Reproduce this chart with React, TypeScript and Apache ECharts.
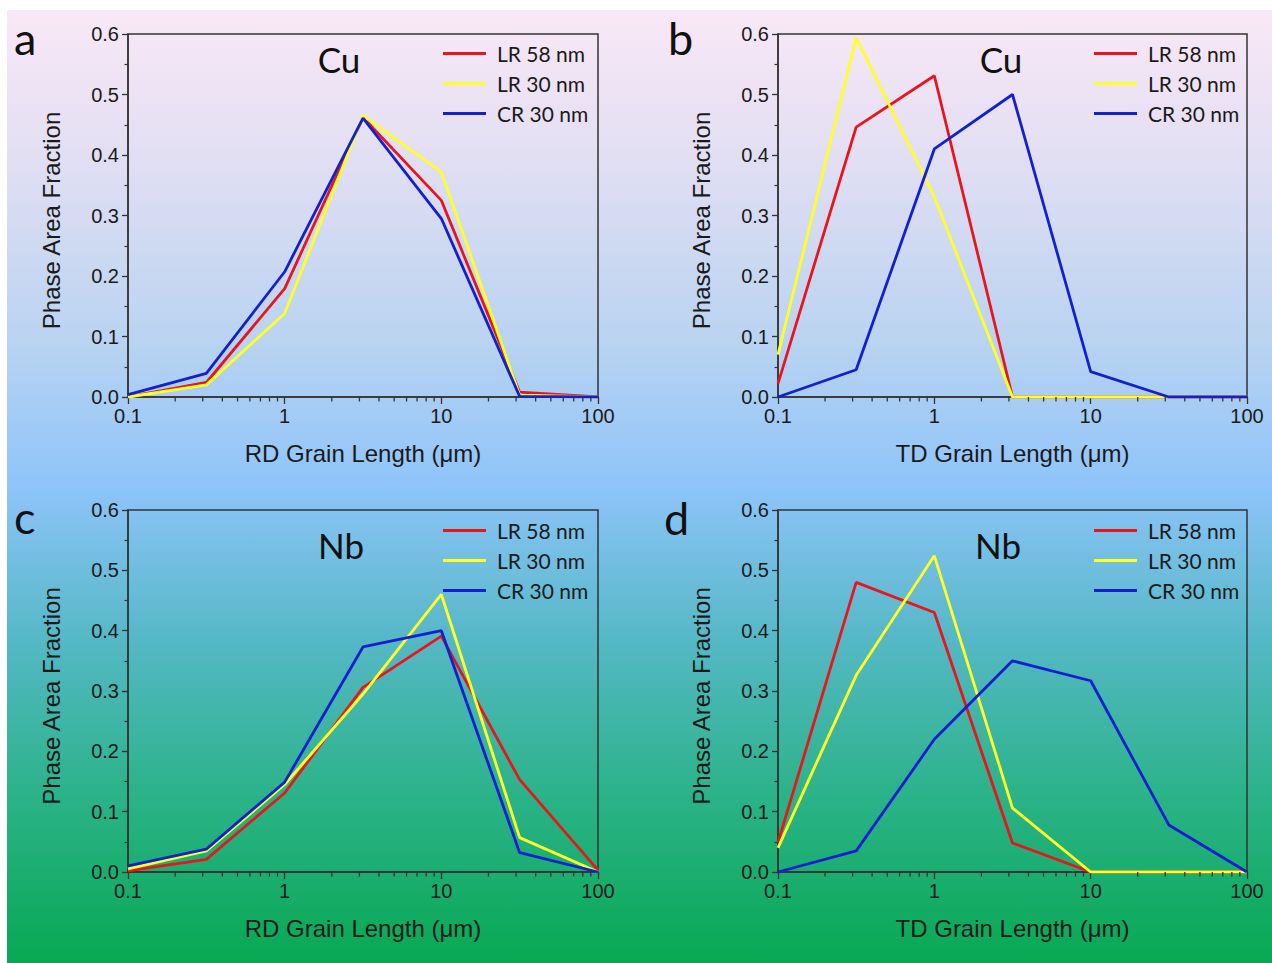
import React, { useEffect, useRef } from "react";
import * as echarts from "echarts";

// Grain length bins (µm), half-decade steps
const grainLengths = [0.1, 0.3162, 1, 3.162, 10, 31.62, 100];
const seriesNames = ["LR 58 nm", "LR 30 nm", "CR 30 nm"];
const xTickValues = [0.1, 1, 10, 100];
const minorTickValues = [0.2, 0.3, 0.4, 0.5, 0.6, 0.7, 0.8, 0.9, 2, 3, 4, 5, 6, 7, 8, 9, 20, 30, 40, 50, 60, 70, 80, 90];

// Panel a: Cu, RD
const aLR58 = [0, 0.024, 0.179, 0.462, 0.325, 0.008, 0];
const aLR30 = [0, 0.02, 0.138, 0.465, 0.372, 0.003, 0];
const aCR30 = [0.004, 0.039, 0.207, 0.461, 0.295, 0.001, 0];
// Panel b: Cu, TD
const bLR58 = [0.022, 0.446, 0.531, 0, 0, 0, 0];
const bLR30 = [0.07, 0.594, 0.331, 0, 0, 0, 0];
const bCR30 = [0, 0.045, 0.41, 0.5, 0.042, 0, 0];
// Panel c: Nb, RD
const cLR58 = [0.002, 0.021, 0.131, 0.306, 0.391, 0.153, 0.003];
const cLR30 = [0.005, 0.035, 0.145, 0.295, 0.46, 0.057, 0];
const cCR30 = [0.01, 0.038, 0.149, 0.373, 0.4, 0.032, 0];
// Panel d: Nb, TD
const dLR58 = [0.049, 0.48, 0.43, 0.048, 0, 0, 0];
const dLR30 = [0.04, 0.326, 0.524, 0.106, 0, 0, 0];
const dCR30 = [0, 0.035, 0.22, 0.35, 0.317, 0.078, 0];

const panelLetters = ["a", "b", "c", "d"];
const panelMaterials = ["Cu", "Cu", "Nb", "Nb"];
const panelXNames = ["RD Grain Length (μm)", "TD Grain Length (μm)", "RD Grain Length (μm)", "TD Grain Length (μm)"];
const yName = "Phase Area Fraction";

const panelData = [
  [aLR58, aLR30, aCR30],
  [bLR58, bLR30, bCR30],
  [cLR58, cLR30, cCR30],
  [dLR58, dLR30, dCR30],
];

const lineColors = ["#e8161c", "#ffff28", "#1420d0"];

// layout
const grids = [
  { left: 128, top: 34, width: 470, height: 363 },
  { left: 778, top: 34, width: 469, height: 363 },
  { left: 128, top: 510, width: 470, height: 362 },
  { left: 778, top: 510, width: 469, height: 362 },
];
const letterPos = [
  [14, 38],
  [668, 38],
  [14, 517],
  [664, 518],
];
const materialPos = [
  [339, 59],
  [1001, 59],
  [341, 545],
  [998, 545],
];
const legendPos = [
  [443, 43],
  [1094, 43],
  [443, 520],
  [1094, 520],
];

const AXIS_COLOR = "#333";
const TEXT_COLOR = "#1a1a1a";
const ARIAL = "'Liberation Sans', Arial, sans-serif";
const CAL = "Lato, 'Open Sans', sans-serif";

export default function App() {
  const ref = useRef<HTMLDivElement>(null);

  useEffect(() => {
    if (!ref.current) return;
    const chart = echarts.init(ref.current, null, { renderer: "svg" });

    const xAxes: any[] = [];
    const yAxes: any[] = [];
    const series: any[] = [];
    const legends: any[] = [];
    const graphics: any[] = [];

    graphics.push({
      type: "rect",
      z: -100,
      silent: true,
      shape: { x: 7, y: 10, width: 1265, height: 953 },
      style: {
        fill: new echarts.graphic.LinearGradient(0, 0, 0, 1, [
          { offset: 0, color: "#f9e8f6" },
          { offset: 0.15, color: "#e3dff3" },
          { offset: 0.35, color: "#b9d3f1" },
          { offset: 0.5, color: "#8ec4fa" },
          { offset: 0.66, color: "#55b8c6" },
          { offset: 0.82, color: "#2cb38a" },
          { offset: 1, color: "#08a853" },
        ]),
      },
    });

    for (let i = 0; i < 4; i++) {
      xAxes.push({
        type: "log",
        logBase: 10,
        gridIndex: i,
        min: xTickValues[0],
        max: xTickValues[xTickValues.length - 1],
        name: panelXNames[i],
        nameLocation: "middle",
        nameGap: 44,
        nameTextStyle: { fontFamily: ARIAL, fontSize: 24, color: TEXT_COLOR },
        axisLine: { show: true, onZero: false, lineStyle: { color: AXIS_COLOR, width: 1.5 } },
        axisTick: { show: true, length: 7, lineStyle: { color: AXIS_COLOR, width: 1.3 } },
        axisLabel: {
          fontFamily: ARIAL,
          fontSize: 20,
          color: TEXT_COLOR,
          margin: 9,
          formatter: (v: number) => (v < 1 ? v.toFixed(1) : String(Math.round(v))),
        },
        splitLine: { show: false },
      });
      yAxes.push({
        type: "value",
        gridIndex: i,
        min: 0,
        max: 0.6,
        interval: 0.1,
        name: yName,
        nameLocation: "middle",
        nameGap: 65,
        nameTextStyle: { fontFamily: ARIAL, fontSize: 24, color: TEXT_COLOR, padding: [0, 10, 0, 0] },
        axisLine: { show: true, lineStyle: { color: AXIS_COLOR, width: 1.5 } },
        axisTick: { show: true, length: 6, lineStyle: { color: AXIS_COLOR, width: 1.3 } },
        minorTick: { show: true, splitNumber: 2, length: 3.5, lineStyle: { color: AXIS_COLOR, width: 1.2 } },
        axisLabel: {
          fontFamily: ARIAL,
          fontSize: 20,
          color: TEXT_COLOR,
          margin: 9,
          formatter: (v: number) => v.toFixed(1),
        },
        splitLine: { show: false },
        minorSplitLine: { show: false },
      });

      panelData[i].forEach((vals, k) => {
        series.push({
          type: "line",
          name: seriesNames[k],
          xAxisIndex: i,
          yAxisIndex: i,
          data: grainLengths.map((x, j) => [x, vals[j]]),
          symbol: "none",
          lineStyle: { color: lineColors[k], width: 2.8 },
          itemStyle: { color: lineColors[k] },
          z: 3 + k,
        });
      });

      series.push({
        type: "custom",
        coordinateSystem: "cartesian2d",
        xAxisIndex: i,
        yAxisIndex: i,
        silent: true,
        clip: false,
        z: 50,
        data: minorTickValues.map((v) => [v, 0]),
        renderItem: (_p: any, api: any) => {
          const p = api.coord([api.value(0), api.value(1)]);
          return {
            type: "line",
            shape: { x1: p[0], y1: p[1], x2: p[0], y2: p[1] + 4.5 },
            style: { stroke: AXIS_COLOR, lineWidth: 1.3 },
          };
        },
      });

      legends.push({
        data: seriesNames,
        orient: "vertical",
        left: legendPos[i][0],
        top: legendPos[i][1],
        padding: 0,
        icon: "rect",
        itemWidth: 43,
        itemHeight: 3,
        itemGap: 9,
        selectedMode: false,
        textStyle: { fontFamily: CAL, fontSize: 21, color: TEXT_COLOR, lineHeight: 21, padding: [0, 0, 0, 6] },
      });

      graphics.push({
        type: "text",
        x: letterPos[i][0],
        y: letterPos[i][1],
        silent: true,
        style: {
          text: panelLetters[i],
          font: `45px ${CAL}`,
          fill: "#111",
          align: "left",
          verticalAlign: "middle",
        },
      });
      graphics.push({
        type: "text",
        x: materialPos[i][0],
        y: materialPos[i][1],
        silent: true,
        style: {
          text: panelMaterials[i],
          font: `35px ${CAL}`,
          fill: "#111",
          align: "center",
          verticalAlign: "middle",
        },
      });
    }

    chart.setOption({
      animation: false,
      backgroundColor: "#ffffff",
      grid: grids.map((g) => ({
        ...g,
        show: true,
        borderColor: AXIS_COLOR,
        borderWidth: 1.5,
        backgroundColor: "transparent",
        containLabel: false,
      })),
      xAxis: xAxes,
      yAxis: yAxes,
      legend: legends,
      graphic: { elements: graphics },
      series,
    });

    return () => chart.dispose();
  }, []);

  return (
    <div
      ref={ref}
      style={{ position: "absolute", left: 0, top: 0, width: 1272, height: 963 }}
    />
  );
}
